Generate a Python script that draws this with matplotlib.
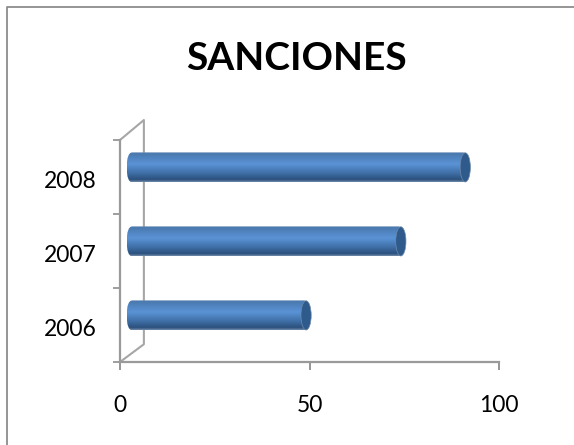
import numpy as np
import matplotlib
matplotlib.use('Agg')
import matplotlib.pyplot as plt
from matplotlib.colors import LinearSegmentedColormap
from matplotlib.lines import Line2D
from matplotlib.patches import Ellipse, FancyBboxPatch
from matplotlib.transforms import ScaledTranslation

years = ['2006', '2007', '2008']
sanciones = [50, 75, 92]
x_ticks = [0, 50, 100]

plt.rcParams['font.family'] = ['Lato', 'DejaVu Sans']

W, H = 574, 445
fig = plt.figure(figsize=(W / 100, H / 100), dpi=100, facecolor='white')

# chart frame, right and bottom edges fall outside the crop
fig.add_artist(Line2D([7 / W, 7 / W, 1], [0, 1 - 7 / H, 1 - 7 / H], transform=fig.transFigure,
                      color='#8c8c8c', linewidth=1.3))
fig.text(296 / W, 1 - 59 / H, 'SANCIONES', ha='center', va='center',
         fontsize=28, fontweight='bold', color='black')

ax = fig.add_axes([120 / W, 1 - 362 / H, 379 / W, 222 / H])
ax.set_xlim(0, 100)
ax.set_ylim(-0.5, 2.5)
ax.patch.set_alpha(0)
for s in ['top', 'right']:
    ax.spines[s].set_visible(False)
for s in ['left', 'bottom']:
    ax.spines[s].set_color('#9a9a9a')
    ax.spines[s].set_linewidth(1.6)

ax.set_xticks(x_ticks)
ax.set_yticks(range(len(years)))
ax.set_yticklabels(years)
ax.set_yticks([-0.5, 0.5, 1.5, 2.5], minor=True)
ax.tick_params(axis='y', which='major', length=0, labelsize=16.5, pad=16.5)
ax.tick_params(axis='y', which='minor', length=5, color='#8e8e8e', width=1.2)
ax.tick_params(axis='x', length=6, color='#8e8e8e', width=1.3, labelsize=16.5, pad=18)
for lab in ax.get_yticklabels():
    lab.set_transform(lab.get_transform() + ScaledTranslation(0, -2 / 100, fig.dpi_scale_trans))

# back wall of the 3d box
wall_x = 6.3
wall_low = -0.26
wall_top = 2.77
ax.plot([0, wall_x, wall_x, 0], [-0.5, wall_low, wall_top, 2.5], color='#a6a6a6',
        linewidth=1.5, clip_on=False, zorder=1)

# cylinders, shaded top to bottom
cyl = LinearSegmentedColormap.from_list('cyl', [(0, '#8fa6c2'), (0.06, '#4a78ad'), (0.42, '#5a93d6'),
                                                (0.72, '#3f6fa6'), (0.93, '#2b4f7c'), (1, '#6f8aa8')])
base = 1.77
depth = 0.13
half = 0.203
grad = np.linspace(0, 1, 64).reshape(-1, 1)
for i, v in enumerate(sanciones):
    yc = i + depth
    im = ax.imshow(grad, extent=[base, v, yc - half, yc + half], origin='upper', aspect='auto',
                   cmap=cyl, zorder=3, interpolation='bilinear')
    clip = FancyBboxPatch((base, yc - half), v - base, 2 * half,
                          boxstyle='round,pad=0,rounding_size=1.5', mutation_aspect=half / 1.5,
                          transform=ax.transData, facecolor='none', edgecolor='none')
    ax.add_patch(clip)
    im.set_clip_path(clip)
    # end cap of the cylinder
    ax.add_patch(Ellipse((v - 0.9, yc), 2.7, 2 * half * 0.97, facecolor='#2f5a8c',
                         edgecolor='#6f8aa8', linewidth=0.5, zorder=4))

ax.set_xlim(0, 100)
ax.set_ylim(-0.5, 2.5)

fig.savefig('out.png', dpi=100)
